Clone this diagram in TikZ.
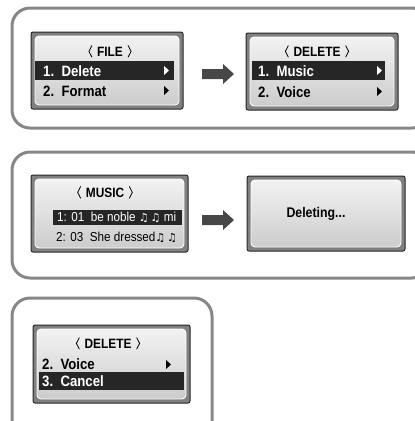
\documentclass[tikz,border=0pt]{standalone}
\usepackage{fontspec}
\setmainfont{Liberation Sans}
\newfontfamily\cond[FakeStretch=0.88]{Liberation Sans}
\newfontfamily\plainf[FakeStretch=0.9]{Liberation Sans}
\newfontfamily\notef{DejaVu Sans}
\begin{document}
\begin{tikzpicture}[x=1pt,y=-1pt,
  panel/.style={draw=black!47,line width=3pt,rounded corners=18pt},
  scr/.style={draw=black!85,line width=1pt,fill=black!50,rounded corners=2pt},
  inner/.style={draw=white,line width=0.9pt,rounded corners=4pt,top color=black!5,bottom color=black!20},
  bar/.style={fill=black!85},
  menu/.style={inner sep=0pt,anchor=base west,font=\cond\bfseries\fontsize{15}{15}\selectfont},
  ttl/.style={inner sep=0pt,anchor=base,font=\cond\bfseries\fontsize{13.5}{13.5}\selectfont},
  mus/.style={inner sep=0pt,anchor=base west,font=\plainf\fontsize{13}{13}\selectfont},
  brk/.style={draw=black,line width=0.8pt},
  blk/.style={fill=black!72},
]
\useasboundingbox (0,0) rectangle (415,421);
\newcommand\brackets[1]{%
  \draw[brk] ([xshift=-5pt,yshift=1pt]#1.north west) -- ([xshift=-8pt]#1.west) -- ([xshift=-5pt,yshift=-1pt]#1.south west);
  \draw[brk] ([xshift=5pt,yshift=1pt]#1.north east) -- ([xshift=8pt]#1.east) -- ([xshift=5pt,yshift=-1pt]#1.south east);}
% panels
\draw[panel] (12,8) rectangle (430,128);
\draw[panel] (12,152) rectangle (430,278);
\draw[panel] (12,298) rectangle (212,440);

% screen 1
\draw[scr] (31,32) rectangle (183,109);
\draw[inner] (35,36) rectangle (179,105);
\fill[bar] (35,61) rectangle (174,80);
\node[ttl] (t1) at (110,56) {FILE};
\brackets{t1}
\node[menu,text=white] (a1) at (43,76) {1.\ \ Delete};
\node[menu] (a2) at (43,96) {2.\ \ Format};
\fill[white] (164,66) -- (169,70.5) -- (164,75) -- cycle;
\fill[black] (164,86) -- (169,90.5) -- (164,95) -- cycle;

% arrow 1
\fill[blk] (202,69) -- (223,69) -- (223,64) -- (234,74) -- (223,84) -- (223,79) -- (202,79) -- cycle;

% screen 2
\draw[scr] (246,33) rectangle (398,110);
\draw[inner] (250,37) rectangle (394,106);
\fill[bar] (252,61) rectangle (385,80);
\node[ttl] (t2) at (317,56) {DELETE};
\brackets{t2}
\node[menu,text=white] (b1) at (258,76) {1.\ \ Music};
\node[menu] (b2) at (258,97) {2.\ \ Voice};
\fill[white] (377,66) -- (382,70.5) -- (377,75) -- cycle;
\fill[black] (377,87) -- (382,91.5) -- (377,96) -- cycle;

% screen 3
\draw[scr] (31,175) rectangle (188,252);
\draw[inner] (35,179) rectangle (184,248);
\fill[bar] (53,210) rectangle (182,225);
\node[ttl] (t3) at (105,197) {MUSIC};
\brackets{t3}
\node[mus,text=white] (c1) at (57,221) {1: 01\ \ be noble {\notef\bfseries\fontsize{11}{11}\selectfont ♫\,♫} mi};
\node[mus] (c2) at (56,241) {2: 03\ \ She dressed{\notef\bfseries\fontsize{11}{11}\selectfont ♫\,♫}};

% arrow 2
\fill[blk] (202,215) -- (223,215) -- (223,210) -- (234,220) -- (223,230) -- (223,225) -- (202,225) -- cycle;

% screen 4
\draw[scr] (247,176) rectangle (405,251);
\draw[inner] (251,180) rectangle (401,247);
\node[ttl,font=\cond\bfseries\fontsize{14}{14}\selectfont] (d1) at (316,217) {Deleting...};

% screen 5
\draw[scr] (33,325) rectangle (190,403);
\draw[inner] (37,329) rectangle (186,399);
\fill[bar] (39,372) rectangle (184,390);
\node[ttl] (t5) at (108,348) {DELETE};
\brackets{t5}
\node[menu] (e1) at (42,369) {2.\ \ Voice};
\node[menu,text=white] (e2) at (42,386) {3.\ \ Cancel};
\fill[black] (166,360) -- (171,364.5) -- (166,369) -- cycle;
\end{tikzpicture}
\end{document}
